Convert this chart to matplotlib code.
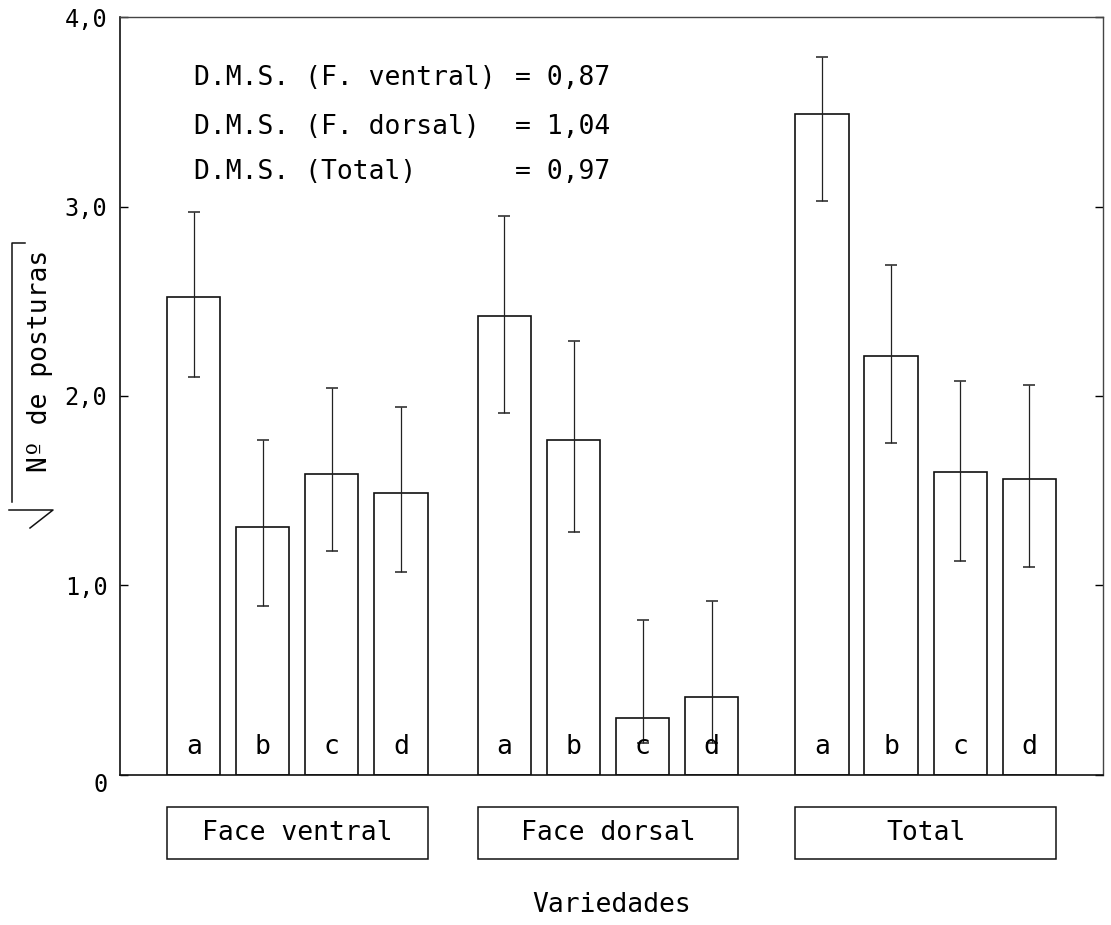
"""
plot.py
-------
Nº de posturas (raiz quadrada) por variedade: face ventral, face dorsal e total.
"""

import matplotlib
matplotlib.use("Agg")
import matplotlib.pyplot as plt
import matplotlib.transforms as mtransforms
from matplotlib.patches import Rectangle
from matplotlib.lines import Line2D

# ── Dados ─────────────────────────────────────────────────────────────────────
grupos     = ["Face ventral", "Face dorsal", "Total"]
variedades = ["a", "b", "c", "d"]

ventral_media = [2.52, 1.31, 1.59, 1.49]
ventral_inf   = [2.10, 0.89, 1.18, 1.07]
ventral_sup   = [2.97, 1.77, 2.04, 1.94]

dorsal_media  = [2.42, 1.77, 0.30, 0.41]
dorsal_inf    = [1.91, 1.28, 0.17, 0.17]
dorsal_sup    = [2.95, 2.29, 0.82, 0.92]

total_media   = [3.49, 2.21, 1.60, 1.56]
total_inf     = [3.03, 1.75, 1.13, 1.10]
total_sup     = [3.79, 2.69, 2.08, 2.06]

dms_rotulos = ["D.M.S. (F. ventral)", "D.M.S. (F. dorsal)", "D.M.S. (Total)"]
dms_valores = ["0,87", "1,04", "0,97"]

y_ticks   = [0, 1, 2, 3, 4]
y_rotulos = ["0", "1,0", "2,0", "3,0", "4,0"]

# ── Layout ────────────────────────────────────────────────────────────────────
inicio_grupo = [0.0, 4.5, 9.1]   # posição da 1ª barra de cada grupo
largura      = 0.77
dms_y        = [3.68, 3.42, 3.18]
FONTE        = "DejaVu Sans Mono"

plt.rcParams["font.family"] = FONTE

medias = [ventral_media, dorsal_media, total_media]
infs   = [ventral_inf, dorsal_inf, total_inf]
sups   = [ventral_sup, dorsal_sup, total_sup]

fig = plt.figure(figsize=(11.11, 9.25), dpi=100)
ax = fig.add_axes([0.108, 0.1622, 0.8848, 0.8194])

for g, grupo in enumerate(grupos):
    xs = [inicio_grupo[g] + i for i in range(len(variedades))]
    m, lo, hi = medias[g], infs[g], sups[g]
    ax.bar(xs, m, width=largura, facecolor="white", edgecolor="#111111",
           linewidth=1.2, zorder=2)
    yerr = [[mi - l for mi, l in zip(m, lo)], [h - mi for mi, h in zip(m, hi)]]
    ax.errorbar(xs, m, yerr=yerr, fmt="none", ecolor="#222222",
                elinewidth=0.9, capsize=4, capthick=1.1, zorder=3)
    for x, letra in zip(xs, variedades):
        ax.text(x, 0.15, letra, ha="center", va="center", fontsize=19, zorder=4)

# caixas com o nome dos grupos, abaixo do eixo
trans = mtransforms.blended_transform_factory(ax.transData, ax.transAxes)
for g, grupo in enumerate(grupos):
    x0 = inicio_grupo[g] - largura / 2
    x1 = inicio_grupo[g] + len(variedades) - 1 + largura / 2
    ax.add_patch(Rectangle((x0, -0.1108), x1 - x0, 0.0686, transform=trans,
                           fill=False, edgecolor="#111111", linewidth=1.1,
                           clip_on=False))
    ax.text((x0 + x1) / 2, -0.0765, grupo, transform=trans, ha="center",
            va="center", fontsize=19)

# D.M.S.
for rot, val, y in zip(dms_rotulos, dms_valores, dms_y):
    ax.text(0.0, y, rot, ha="left", va="center", fontsize=19)
    ax.text(4.65, y, "= " + val, ha="left", va="center", fontsize=19)

ax.text(0.5, -0.1715, "Variedades", transform=ax.transAxes, ha="center",
        va="center", fontsize=19)

# eixos
ax.set_xlim(-1.07, 13.17)
ax.set_ylim(0, 4)
ax.set_xticks([])
ax.set_yticks(y_ticks)
ax.set_yticklabels(y_rotulos)
ax.tick_params(axis="y", direction="in", length=6, width=1, right=True,
               labelsize=17, pad=9)
# o "0" fica um pouco abaixo da linha do eixo no original
zero = ax.get_yticklabels()[0]
zero.set_transform(zero.get_transform()
                   + mtransforms.ScaledTranslation(0, -8 / 100, fig.dpi_scale_trans))
for lado in ["left", "bottom"]:
    ax.spines[lado].set_linewidth(1.2)
    ax.spines[lado].set_color("#111111")
for lado in ["top", "right"]:
    ax.spines[lado].set_linewidth(1.0)
    ax.spines[lado].set_color("#444444")

# rótulo do eixo y com o sinal de raiz
W, H = 1111, 925
fig.text(40 / W, 1 - 361 / H, "Nº de posturas", rotation=90, ha="center",
         va="center", fontsize=19)
raiz = [([25, 12, 12], [243, 243, 502]),
        ([9, 53, 30], [510, 510, 528])]
for xs, ys in raiz:
    fig.add_artist(Line2D([x / W for x in xs], [1 - y / H for y in ys],
                          transform=fig.transFigure, color="#111111",
                          linewidth=1.1))

plt.savefig("out.png", dpi=100)
plt.close()
